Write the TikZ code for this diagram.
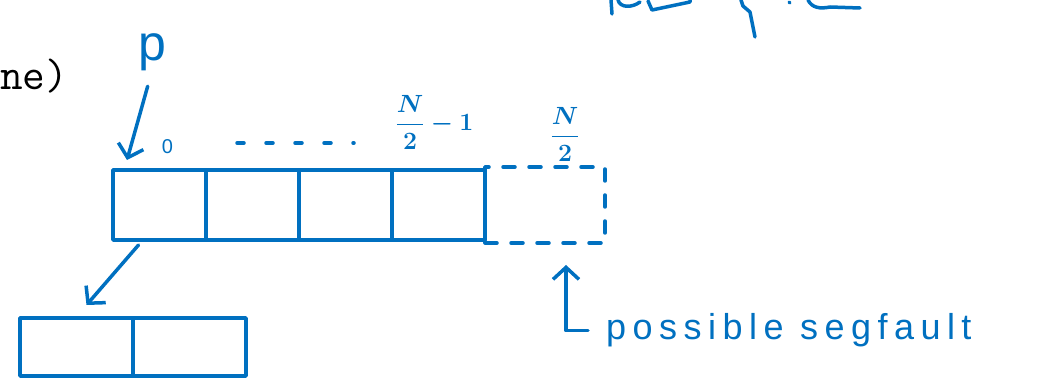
\documentclass[tikz,border=0pt]{standalone}
\usepackage{amsmath}
\usepackage{fontspec}
\usetikzlibrary{arrows.meta,positioning}
\newfontfamily\handfont{Liberation Sans}
\newfontfamily\segfont[LetterSpace=18]{Liberation Sans}
\definecolor{ink}{HTML}{0070C0}

\begin{document}
\begin{tikzpicture}[
  x=1pt, y=-1pt, line join=round, line cap=round,
  >={Straight Barb[length=12pt,width=26pt]},
  cell/.style={draw=ink,line width=3.5pt,outer sep=0pt,inner sep=0pt,minimum width=93pt,minimum height=70pt},
  ghost/.style={cell,dash pattern=on 12pt off 14pt,minimum width=120pt,minimum height=76pt},
  lcell/.style={cell,minimum width=113pt,minimum height=58pt},
  lab/.style={text=ink,font=\handfont\fontsize{20}{24}\selectfont,inner sep=0pt},
  frac/.style={text=ink,font=\boldmath\fontsize{25}{30}\selectfont,inner sep=0pt},
  scrib/.style={draw=ink,line width=3.5pt},
  arr/.style={->,draw=ink,line width=3.5pt}]
\useasboundingbox (0,0) rectangle (1037,390);
% cut-off text from the slide
\node[anchor=base west,inner sep=0pt,font=\ttfamily\fontsize{44}{52}\selectfont] (cut) at (0,90) {ne)};
\draw[scrib] (611,0) -- (612,14);
\draw[scrib] (618,0) .. controls (620,8) and (632,8) .. (640,2);
\draw[scrib] (648,1) -- (652,10) -- (690,2) -- (690,-3);
\draw[scrib] (741,0) -- (743,6) -- (750,12) -- (752,22) -- (755,37);
\draw[scrib] (789,2) -- (790,3);
\draw[scrib] (808,0) .. controls (812,8) and (820,9) .. (830,7) -- (860,8);
% pointer
\node[text=ink,font=\handfont\fontsize{50}{60}\selectfont,inner sep=0pt] (p) at (152,52) {p};
% array of N/2 cells
\node[cell] (c0) at (159.5,205) {};
\foreach \i/\j in {1/0,2/1,3/2} \node[cell,right=0pt of c\j] (c\i) {};
\node[ghost,right=0pt of c3] (ghost) {};
\node[lab,above=16pt of c0,xshift=8pt] (i0) {0};
\draw[ink,line width=3.5pt,dash pattern=on 7pt off 22pt] (237,143) -- (354,143);
\node[frac,above=20pt of c3,xshift=-4pt] (ihalf1) {$\dfrac{N}{2}-1$};
\node[frac,above=5pt of ghost,xshift=20pt] (ihalf) {$\dfrac{N}{2}$};
% second array
\node[lcell] (d0) at (76.5,347) {};
\node[lcell,right=0pt of d0] (d1) {};
% note
\node[text=ink,font=\segfont\fontsize{36}{42}\selectfont,anchor=base west,inner sep=0pt] (seg) at (606,340) {possible segfault};
\draw[arr,shorten <=16pt] (p.south) -- ([shift={(14pt,10pt)}]c0.north west);
\draw[arr] ([shift={(-21pt,-5pt)}]c0.south) -- ([shift={(10pt,13pt)}]d0.north);
\draw[arr,shorten <=18pt] (seg.west) -| ([shift={(21pt,-22pt)}]ghost.south);
\end{tikzpicture}
\end{document}
